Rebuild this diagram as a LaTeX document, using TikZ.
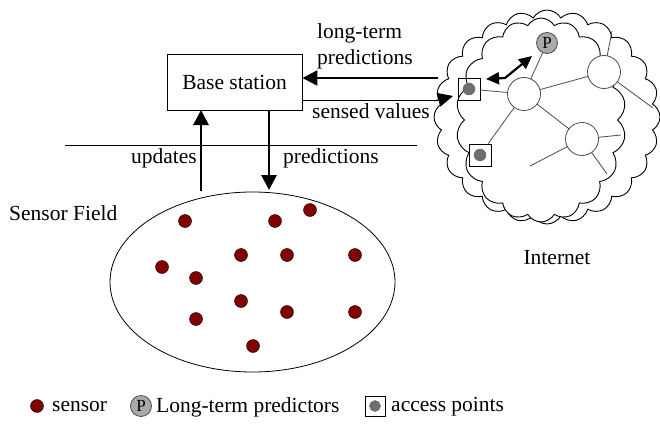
\documentclass[tikz,border=0pt]{standalone}
\usepackage{fontspec}
\setmainfont{Liberation Serif}
\usetikzlibrary{arrows.meta,shapes.symbols,shapes.geometric}
\definecolor{sensorred}{RGB}{128,0,0}
\definecolor{apgray}{RGB}{110,110,110}
\definecolor{pgray}{RGB}{170,170,170}
\tikzset{
  lbl/.style={font=\fontsize{21.5}{24}\selectfont, inner sep=0pt},
  sensor/.style={circle, fill=sensorred, draw=black, line width=0.4pt, minimum size=13pt, inner sep=0pt},
  netnode/.style={circle, draw=black!70, fill=white, line width=0.8pt, minimum size=33pt, inner sep=0pt},
  pred/.style={circle, draw=black!70, fill=pgray, line width=0.8pt, minimum size=21pt, inner sep=0pt, font=\fontsize{17}{17}\selectfont},
  apbox/.style={draw=black, line width=0.9pt, minimum size=22pt, inner sep=0pt},
  apdot/.style={circle, fill=apgray, draw=black!60, line width=0.4pt, minimum size=12pt, inner sep=0pt},
  thin/.style={draw=black!70, line width=0.8pt},
  bigarrow/.style={line width=2.8pt, -{Triangle[length=15pt,width=15pt]}},
  dblarrow/.style={line width=2.2pt, {Triangle[length=13pt,width=12pt]}-{Triangle[length=13pt,width=12pt]}},
  cloudshape/.style={cloud, draw=black, fill=white, line width=0.9pt, cloud puff arc=120, aspect=1, inner sep=0pt}
}
\begin{document}
\begin{tikzpicture}[x=1pt,y=-1pt]
\useasboundingbox (0,0) rectangle (660,425);
% cloud
\node[cloudshape, cloud puffs=24, minimum width=226pt, minimum height=214pt] (cloudback) at (547,117) {};
\node[cloudshape, cloud puffs=18, minimum width=170pt, minimum height=204pt] (cloudfront) at (541,120) {};
% base station
\node[draw=black, line width=0.9pt, minimum width=135pt, minimum height=56pt, inner sep=0pt] (bs) at (234.5,82) {};
\node[lbl] (bslabel) at (bs.center) {Base station};
% divider line
\coordinate (divL) at (65,145);
\coordinate (divR) at (417,145);
\draw[line width=0.9pt] (divL) -- (divR);
% sensor field
\node[draw=black, line width=0.8pt, ellipse, minimum width=285pt, minimum height=180pt, inner sep=0pt] (field) at (252.5,282) {};
\node[lbl, anchor=west] (sflabel) at (9,213) {Sensor Field};
% sensors
\foreach \n/\x/\y in {s1/185/221, s2/275/221, s3/310/210, s4/241/255, s5/287/255, s6/355/255,
  s7/162/267, s8/196/278, s9/241/301, s10/287/312, s11/355/312, s12/196/319, s13/253/346}
  \node[sensor] (\n) at (\x,\y) {};
% updates / predictions arrows
\coordinate (updFrom) at (201,191);
\coordinate (updTo) at (201,110);
\coordinate (predFrom) at (269,110);
\coordinate (predTo) at (269,190);
\draw[bigarrow] (updFrom) -- (updTo);
\draw[bigarrow] (predFrom) -- (predTo);
\node[lbl, anchor=east] (updlabel) at (197,158) {updates};
\node[lbl, anchor=west] (predlabel) at (283,158) {predictions};
% network links
\coordinate (n1c) at (524,94);
\coordinate (n2c) at (604,72);
\coordinate (n3c) at (582,139);
\coordinate (e1) at (612,31);
\coordinate (e2) at (653,108);
\coordinate (e3) at (621,135);
\coordinate (e4) at (607,174);
\coordinate (e5) at (530,166);
% network nodes
\node[pred] (p) at (547,43) {P};
\node[apbox] (ap1) at (469,89) {};
\node[apdot] (ap1d) at (ap1.center) {};
\node[apbox] (ap2) at (480,155) {};
\node[apdot] (ap2d) at (ap2.center) {};
\draw[thin] (n2c) -- (e1);
\draw[thin] (n2c) -- (e2);
\draw[thin] (n3c) -- (e3);
\draw[thin] (n3c) -- (e4);
\draw[thin] (n3c) -- (e5);
\draw[thin] (ap1) -- (n1c);
\draw[thin] (n1c) -- (p);
\draw[thin] (n1c) -- (n2c);
\draw[thin] (n1c) -- (n3c);
\draw[thin] (ap2) -- (n1c);
\node[netnode] (n1) at (n1c) {};
\node[netnode] (n2) at (n2c) {};
\node[netnode] (n3) at (n3c) {};
% double arrow between access point and predictor
\coordinate (dA) at (486,79);
\coordinate (dM) at (505,78);
\coordinate (dB) at (532,56);
\draw[dblarrow] (dA) -- (dM) -- (dB);
% long-term predictions arrow
\coordinate (ltFrom) at (438,78);
\draw[bigarrow, line width=2.4pt] (ltFrom) -- (bs.east |- ltFrom);
\node[lbl, anchor=west] (lt1) at (317,33) {long-term};
\node[lbl, anchor=west] (lt2) at (317,59) {predictions};
% sensed values arrow
\coordinate (svTip) at (453,96);
\draw[line width=0.9pt] (bs.east |- 0,100) -- (438,100);
\draw[line width=0.9pt, -{Triangle[length=15pt,width=14pt]}] (434,101) -- (svTip);
\node[lbl, anchor=west] (svlabel) at (312,111) {sensed values};
% internet label
\node[lbl] (inet) at (557,258) {Internet};
% legend
\node[sensor] (legS) at (37,406) {};
\node[lbl, anchor=west] (legSl) at (52,407) {sensor};
\node[pred] (legP) at (141,406) {P};
\node[lbl, anchor=west] (legPl) at (156,407) {Long-term predictors};
\node[apbox, minimum size=20pt] (legA) at (375,406) {};
\node[apdot, minimum size=11pt] (legAd) at (legA.center) {};
\node[lbl, anchor=west] (legAl) at (391,407) {access points};
\end{tikzpicture}
\end{document}
